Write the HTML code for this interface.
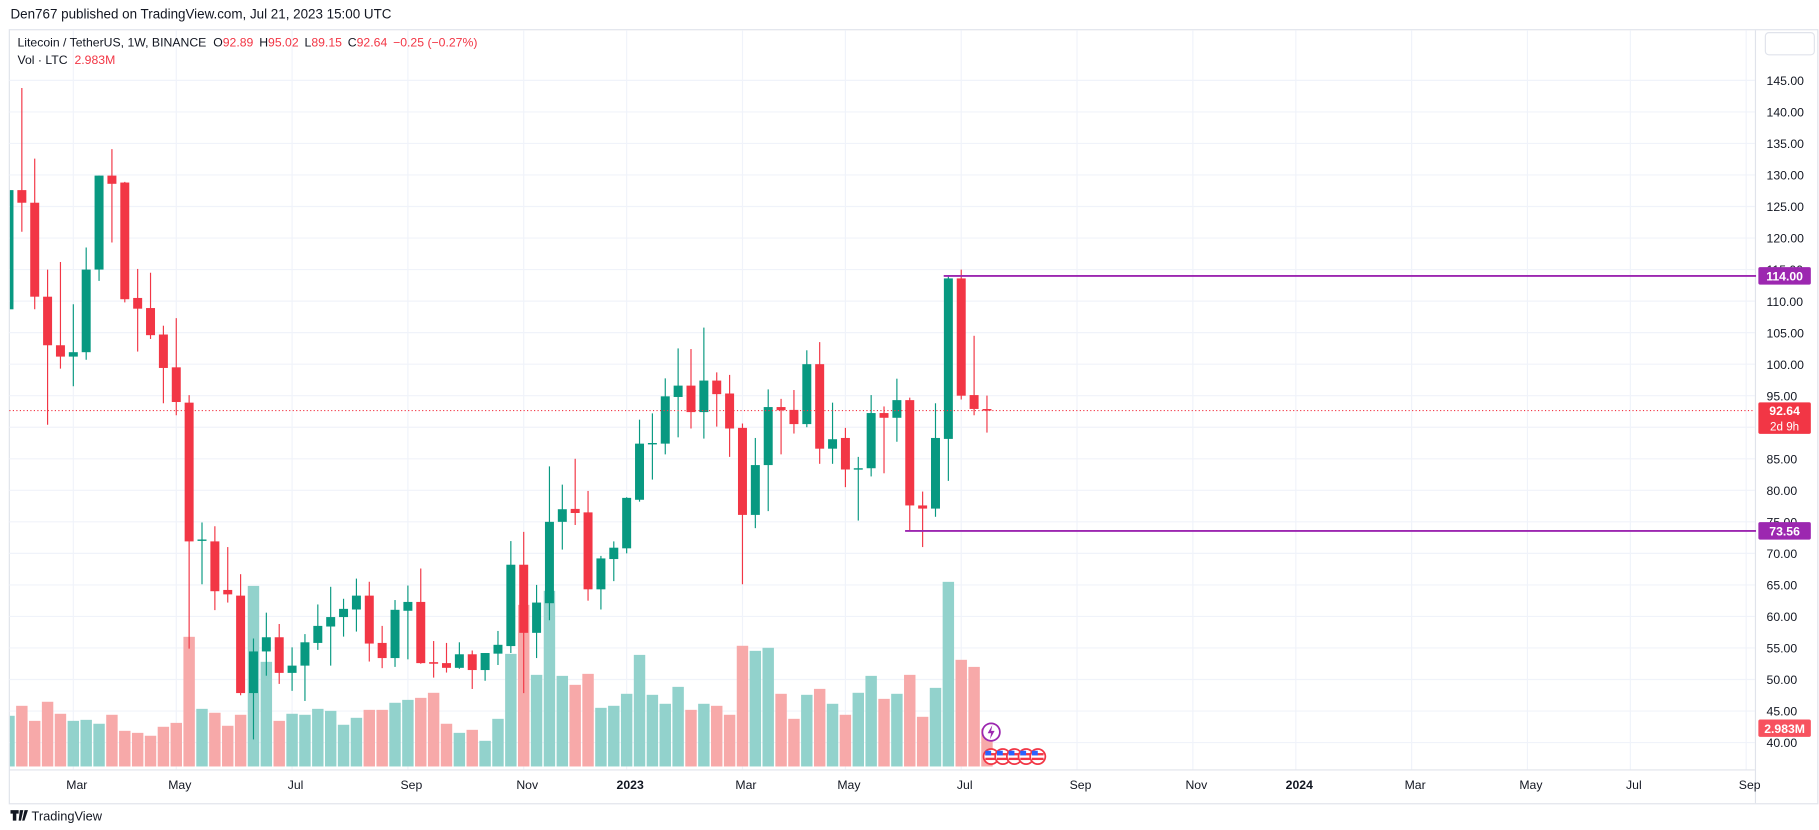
<!DOCTYPE html>
<html><head><meta charset="utf-8"><style>
html,body{margin:0;padding:0;background:#fff;}
svg{display:block;}
text{font-family:"Liberation Sans",sans-serif;}
</style></head><body>
<svg id="chart" width="1819" height="830" viewBox="0 0 1560 712" preserveAspectRatio="none" xmlns="http://www.w3.org/2000/svg">
<rect x="0" y="0" width="1560" height="712" fill="#fff"/>
<text x="9" y="16" font-size="11.5" fill="#131722">Den767 published on TradingView.com, Jul 21, 2023 15:00 UTC</text>
<rect x="8" y="25.5" width="1551" height="664" fill="none" stroke="#e0e3eb" stroke-width="1"/>
<g id="grid"></g>
<line x1="1505.5" y1="26" x2="1505.5" y2="689" stroke="#e0e3eb"/>
<line x1="8" y1="660.5" x2="1505" y2="660.5" stroke="#e0e3eb"/>
<defs><clipPath id="pane"><rect x="8.5" y="26" width="1496" height="634"/></clipPath></defs>
<g id="vols" clip-path="url(#pane)"></g>
<g id="candles" clip-path="url(#pane)"></g>
<g id="axis"></g>
<g id="overlay"></g>
<text x="15" y="40" font-size="10.5" fill="#131722">Litecoin / TetherUS, 1W, BINANCE <tspan dx="3">O</tspan><tspan fill="#f23645">92.89</tspan><tspan dx="5">H</tspan><tspan fill="#f23645">95.02</tspan><tspan dx="5">L</tspan><tspan fill="#f23645">89.15</tspan><tspan dx="5">C</tspan><tspan fill="#f23645">92.64</tspan><tspan dx="5" fill="#f23645">−0.25 (−0.27%)</tspan></text>
<text x="15" y="55" font-size="10.5" fill="#131722">Vol · LTC <tspan dx="3" fill="#f23645">2.983M</tspan></text>
<rect x="1514" y="28" width="42" height="19" rx="3" fill="#fff" stroke="#e0e3eb"/>
<g>
<path d="M9 695 h7 v3 h-2 v6 h-3 v-6 h-2z M17 695 l3 0 l-2 9 h-2z M21 695 h3 l-3 9 h-2z" fill="#131722"/>
<text x="27" y="704" font-size="11" fill="#131722">TradingView</text>
</g>
</svg>
<script>
const opens=[108.7,127.6,125.6,110.7,103.0,101.2,101.9,115.0,129.9,128.8,110.5,108.9,104.7,99.5,93.9,72.0,71.9,64.2,63.3,47.85,54.45,56.7,51.05,52.2,55.8,58.4,59.9,61.1,63.3,55.8,53.4,60.9,62.3,52.75,52.6,51.85,54.0,51.5,54.1,55.3,68.2,57.4,62.1,75.0,77.05,76.5,64.3,69.1,70.8,78.5,87.4,87.4,94.8,96.6,92.4,97.4,95.35,89.9,76.1,84.0,93.2,92.75,90.5,100.0,86.6,88.3,83.4,83.5,92.25,91.5,94.3,77.6,77.1,88.15,113.6,95.1,92.89];
const highs=[127.6,143.8,132.6,115.0,116.2,109.5,118.5,129.9,134.1,128.9,115.1,114.5,106.1,107.3,95.1,74.9,74.3,71.0,66.7,56.5,60.6,58.8,55.1,57.2,61.9,64.7,62.8,66.0,65.5,58.5,62.6,64.9,67.6,56.1,55.8,55.9,54.6,54.2,57.7,71.95,73.4,65.0,83.8,80.9,85.0,79.9,69.6,71.9,78.9,91.2,92.2,97.75,102.5,102.4,105.8,98.7,98.3,90.6,88.3,96.0,94.5,95.9,102.2,103.5,93.9,89.9,85.3,95.1,93.3,97.7,94.7,79.8,93.8,114.1,115.0,104.5,95.02];
const lows=[108.7,121.0,108.7,90.4,99.3,96.5,100.7,113.2,119.3,109.8,102.0,104.0,93.8,91.9,54.9,65.1,61.0,62.2,47.5,40.5,50.6,49.3,48.2,46.6,54.7,52.2,56.8,57.6,52.85,51.8,52.0,53.2,52.5,50.3,51.1,51.7,48.5,49.8,52.3,54.2,47.85,53.4,59.4,70.6,74.5,62.5,61.1,65.6,70.0,78.2,81.7,85.7,88.4,89.8,88.2,90.1,85.3,65.1,74.0,76.7,85.7,89.0,90.0,84.2,84.2,80.5,75.2,82.2,82.7,87.7,73.56,71.0,75.8,81.5,94.4,91.9,89.15];
const closes=[127.6,125.6,110.7,103.0,101.2,101.9,115.0,129.9,128.6,110.3,108.8,104.6,99.4,94.0,71.9,72.2,64.0,63.5,47.85,54.45,56.7,51.05,52.2,55.9,58.5,59.9,61.2,63.3,55.7,53.4,61.05,62.3,52.6,52.5,51.85,54.0,51.5,54.2,55.5,68.2,57.4,62.2,75.0,77.0,76.4,64.3,69.2,70.9,78.8,87.4,87.5,94.9,96.6,92.4,97.4,95.25,89.8,76.1,84.0,93.2,92.7,90.5,100.0,86.6,88.1,83.3,83.5,92.25,91.5,94.3,77.6,77.1,88.3,113.6,95.0,92.9,92.64];
const volumes=[4.01,4.80,3.61,5.12,4.17,3.61,3.69,3.38,4.09,2.82,2.66,2.43,3.14,3.45,10.26,4.56,4.25,3.22,4.09,14.29,8.28,3.61,4.17,4.09,4.56,4.40,3.30,3.85,4.48,4.48,5.04,5.27,5.43,5.83,3.38,2.66,2.90,2.03,3.77,8.91,12.79,7.25,13.90,7.17,6.46,7.33,4.64,4.80,5.75,8.83,5.67,4.96,6.30,4.48,4.96,4.80,4.09,9.55,9.15,9.39,5.75,3.77,5.67,6.14,4.96,4.09,5.83,7.17,5.35,5.75,7.25,3.93,6.22,14.61,8.44,7.88,2.983];
const priceTicks=[40,45,50,55,60,65,70,75,80,85,90,95,100,105,110,115,120,125,130,135,140,145];
const timeLabels=["Mar","May","Jul","Sep","Nov","2023","Mar","May","Jul","Sep","Nov","2024","Mar","May","Jul","Sep"];
const timeWeeks=[5,13,22,31,40,48,57,65,74,83,92,100,109,118,126,135];
const levels=[114.00,73.56];
const levelStart=[73,70];
const lastPrice=92.64;

const NS="http://www.w3.org/2000/svg";
const yP=p=>637-(p-40)*5.41;
const xI=i=>7.7+i*11.036;
const yV=v=>657.5-v*10.84;
function mk(tag,attrs,parent){const e=document.createElementNS(NS,tag);for(const k in attrs)e.setAttribute(k,attrs[k]);parent.appendChild(e);return e;}
const grid=document.getElementById('grid'),vols=document.getElementById('vols'),cg=document.getElementById('candles'),ov=document.getElementById('overlay'),ax=document.getElementById('axis');
priceTicks.forEach(p=>{
  const l=mk('line',{x1:8,x2:1505,y1:yP(p),y2:yP(p),stroke:'#f0f3fa'},grid);
  
  
  const t=mk('text',{x:1515,y:yP(p)+4,'font-size':10.5,fill:'#131722'},ax);
  t.textContent=p.toFixed(2);
  
  
});
timeLabels.forEach((lab,k)=>{
  const x=xI(timeWeeks[k]);
  const l=mk('line',{x1:x,x2:x,y1:26,y2:660,stroke:'#f0f3fa'},grid);
  
  
  const t=mk('text',{x:x+3,y:677,'font-size':10.5,fill:'#131722','text-anchor':'middle','font-weight':/^\d/.test(lab)?'bold':'normal'},ax);
  t.textContent=lab;
  
  
});
opens.forEach((o,i)=>{
  const c=closes[i],up=c>=o,x=xI(i);
  const vb=mk('rect',{x:x-4.9,y:yV(volumes[i]),width:9.8,height:657.5-yV(volumes[i]),fill:up?'#92d2cc':'#f7a9a9'},vols);
  
  
  const col=up?'#089981':'#f23645';
  const g=mk('g',{},cg);
  
  
  mk('line',{x1:x,x2:x,y1:yP(highs[i]),y2:yP(lows[i]),stroke:col,'stroke-width':1},g);
  const top=yP(Math.max(o,c)),bot=yP(Math.min(o,c));
  mk('rect',{x:x-3.85,y:top,width:7.7,height:Math.max(1.2,bot-top),fill:col},g);
});
const lp=mk('line',{x1:8,x2:1505,y1:yP(lastPrice),y2:yP(lastPrice),stroke:'#f23645','stroke-dasharray':'1,2','stroke-width':1},ov);


levels.forEach((lv,k)=>{
  const y=yP(lv);
  const l=mk('line',{x1:xI(levelStart[k])-4,x2:1506,y1:y,y2:y,stroke:'#9c27b0','stroke-width':1.6},ov);
  
  
  const b=mk('rect',{x:1508,y:y-7.5,width:45,height:15,rx:1.5,fill:'#9c27b0'},ov);
  
  
  const t=mk('text',{x:1530.5,y:y+4,'font-size':10.5,fill:'#fff','text-anchor':'middle','font-weight':'bold'},ov);
  t.textContent=lv.toFixed(2);
  
  
});
{
  const y=yP(lastPrice);
  const b=mk('rect',{x:1508,y:y-7,width:45,height:27,rx:1.5,fill:'#f23645'},ov);
  
  
  const t=mk('text',{x:1530.5,y:y+4,'font-size':10.5,fill:'#fff','text-anchor':'middle','font-weight':'bold'},ov);
  t.textContent=lastPrice.toFixed(2);
  
  
  const t2=mk('text',{x:1530.5,y:y+17,'font-size':10,fill:'#fff','text-anchor':'middle'},ov);
  t2.textContent='2d 9h';
  
  
  const vy=yV(volumes[volumes.length-1]);
  const vb=mk('rect',{x:1508,y:vy-8,width:45,height:15,rx:1.5,fill:'#f7525f'},ov);
  
  
  const vt=mk('text',{x:1530.5,y:vy+3.5,'font-size':10.5,fill:'#fff','text-anchor':'middle','font-weight':'bold'},ov);
  vt.textContent='2.983M';
  
  
}
{
  const e=mk('g',{},ov);
  
  
  mk('circle',{cx:850,cy:628,r:7.5,fill:'#fff',stroke:'#9c27b0','stroke-width':1.5},e);
  mk('path',{d:'M851 622 l-4 7 h3 l-1 5 l4 -7 h-3z',fill:'#9c27b0'},e);
  [850,860,870,880,890].forEach(cx=>{
    const f=mk('g',{},ov);
    
    
    mk('circle',{cx:cx,cy:649,r:6.5,fill:'#fff',stroke:'#f23645','stroke-width':1.5},f);
    mk('rect',{x:cx-5,y:646,width:10,height:2,fill:'#f23645'},f);
    mk('rect',{x:cx-5,y:650,width:10,height:2,fill:'#f23645'},f);
    mk('rect',{x:cx-5,y:644,width:5,height:4,fill:'#2962ff'},f);
  });
}
</script>
</body></html>
